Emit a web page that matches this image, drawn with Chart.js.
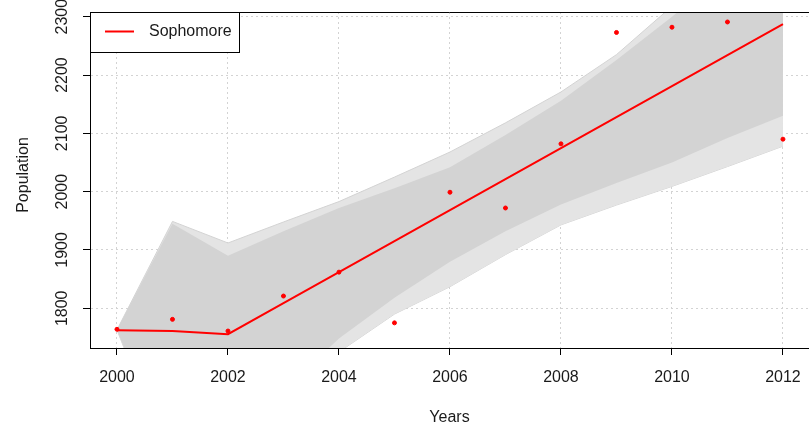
<!DOCTYPE html>
<html>
<head>
<meta charset="utf-8">
<title>Sophomore population</title>
<script src="https://cdn.jsdelivr.net/npm/chart.js@4.4.1/dist/chart.umd.min.js"></script>
<style>
  html, body { margin: 0; padding: 0; background: #fff; overflow: hidden; }
  #wrap { width: 809px; height: 429px; }
</style>
</head>
<body>
<div id="wrap"><canvas id="popChart" width="809" height="429"></canvas></div>
<script>
// Years on the x axis
var years = [2000, 2001, 2002, 2003, 2004, 2005, 2006, 2007, 2008, 2009, 2010, 2011, 2012];

// Observed sophomore counts (red dots)
var observed = [1764, 1781, 1761, 1821, 1862, 1775, 1999, 1972, 2082, 2273, 2282, 2291, 2090];

// Fitted trend (red line)
var fitted = [1762.5, 1761, 1755.5, 1808.7, 1861.9, 1915.1, 1968.3, 2021.5, 2074.7, 2127.9, 2181.1, 2234.3, 2287.5];

// Envelope of the simulated runs: dense core and outermost runs
var simCoreHigh = [1763, 1945, 1890, 1932, 1972, 2006, 2042, 2097, 2156, 2226, 2300, 2380, 2460];
var simCoreLow  = [1763, 1525, 1560, 1660, 1748, 1818, 1880, 1932, 1978, 2015, 2050, 2092, 2130];
var simEdgeHigh = [1763, 1949, 1912, 1948, 1983, 2025, 2068, 2118, 2171, 2235, 2318, 2400, 2480];
var simEdgeLow  = [1763, 1520, 1555, 1650, 1725, 1790, 1837, 1892, 1943, 1977, 2009, 2043, 2078];

// Tick labels
var xTicks = [2000, 2002, 2004, 2006, 2008, 2010, 2012];
var yTicks = [1800, 1900, 2000, 2100, 2200, 2300];

function pairs(values) {
    return years.map(function (yr, i) { return { x: yr, y: values[i] }; });
}

var FONT = '"Liberation Sans", Arial, sans-serif';
var INK = '#1a1a1a';
var SIM_GRAY = '#d3d3d3';

// Rotated y labels, y title, top frame line and the boxed legend
var baseGraphics = {
    id: 'baseGraphics',
    afterDraw: function (chart) {
        var ctx = chart.ctx;
        var area = chart.chartArea;
        var yScale = chart.scales.y;

        ctx.save();

        // frame line along the top of the plot
        ctx.strokeStyle = '#000';
        ctx.lineWidth = 1;
        ctx.beginPath();
        ctx.moveTo(area.left, Math.round(area.top) + 0.5);
        ctx.lineTo(area.right, Math.round(area.top) + 0.5);
        ctx.stroke();

        ctx.font = '16px ' + FONT;
        ctx.fillStyle = INK;
        ctx.textAlign = 'center';
        ctx.textBaseline = 'middle';

        yTicks.forEach(function (v) {
            var py = yScale.getPixelForValue(v);
            ctx.save();
            ctx.translate(63, py);
            ctx.rotate(-Math.PI / 2);
            ctx.fillText(String(v), 0, 0);
            ctx.restore();
        });

        ctx.save();
        ctx.translate(24, 175);
        ctx.rotate(-Math.PI / 2);
        ctx.fillText('Population', 0, 0);
        ctx.restore();

        // legend
        var lx = Math.round(area.left) + 0.5, ly = Math.round(area.top) + 0.5;
        ctx.fillStyle = '#fff';
        ctx.fillRect(lx, ly, 149, 40);
        ctx.strokeStyle = '#000';
        ctx.strokeRect(lx, ly, 149, 40);

        ctx.strokeStyle = '#ff0000';
        ctx.lineWidth = 2;
        ctx.beginPath();
        ctx.moveTo(105, 31.5);
        ctx.lineTo(134, 31.5);
        ctx.stroke();

        ctx.fillStyle = INK;
        ctx.textAlign = 'left';
        ctx.fillText('Sophomore', 149, 32);

        ctx.restore();
    }
};

var ctx = document.getElementById('popChart');

var chartData = {
    datasets: [{
        label: 'Sophomore observed',
        data: pairs(observed),
        showLine: false,
        pointRadius: 2,
        pointBorderWidth: 1,
        pointBackgroundColor: '#ff0000',
        pointBorderColor: '#ff0000',
        order: 0
    }, {
        label: 'Sophomore',
        data: pairs(fitted),
        borderColor: '#ff0000',
        borderWidth: 2,
        pointRadius: 0,
        tension: 0,
        order: 1
    }, {
        label: 'core high',
        data: pairs(simCoreHigh),
        borderWidth: 0,
        pointRadius: 0,
        backgroundColor: SIM_GRAY,
        fill: 3,
        order: 2
    }, {
        label: 'core low',
        data: pairs(simCoreLow),
        borderWidth: 0,
        pointRadius: 0,
        fill: false,
        order: 3
    }, {
        label: 'edge high',
        data: pairs(simEdgeHigh),
        borderColor: SIM_GRAY,
        borderWidth: 1,
        pointRadius: 0,
        backgroundColor: '#e4e4e4',
        fill: 5,
        order: 4
    }, {
        label: 'edge low',
        data: pairs(simEdgeLow),
        borderColor: SIM_GRAY,
        borderWidth: 1,
        pointRadius: 0,
        fill: false,
        order: 5
    }]
};

var chartOptions = {
    responsive: false,
    animation: false,
    events: [],
    layout: {
        autoPadding: false,
        padding: { top: 12, left: 0, right: 0, bottom: 0 }
    },
    plugins: {
        legend: { display: false },
        tooltip: { enabled: false }
    },
    scales: {
        x: {
            type: 'linear',
            min: 1999.514,
            max: 2012.469,
            afterFit: function (s) {
                s.height = 81;
                s.paddingLeft = 0;
                s.paddingRight = 0;
            },
            afterBuildTicks: function (s) {
                s.ticks = xTicks.map(function (v) { return { value: v }; });
            },
            grid: {
                color: SIM_GRAY,
                tickColor: '#000',
                tickLength: 7,
                tickWidth: 1
            },
            border: { display: true, color: '#000', width: 1, dash: [2, 3] },
            ticks: {
                autoSkip: false,
                maxRotation: 0,
                padding: 13,
                color: INK,
                font: { size: 16, family: FONT },
                callback: function (v) { return String(v); }
            },
            title: {
                display: true,
                text: 'Years',
                color: INK,
                font: { size: 16, family: FONT },
                padding: { top: 4, bottom: 2 }
            }
        },
        y: {
            type: 'linear',
            min: 1731.9,
            max: 2308.1,
            afterFit: function (s) { s.width = 90; },
            afterBuildTicks: function (s) {
                s.ticks = yTicks.map(function (v) { return { value: v }; });
            },
            grid: {
                color: SIM_GRAY,
                tickColor: '#000',
                tickLength: 7,
                tickWidth: 1
            },
            border: { display: true, color: '#000', width: 1, dash: [2, 3] },
            ticks: { display: false }
        }
    }
};

var config = {
    type: 'line',
    data: chartData,
    options: chartOptions,
    plugins: [baseGraphics]
};

var popChart = new Chart(ctx, config);
</script>
</body>
</html>
